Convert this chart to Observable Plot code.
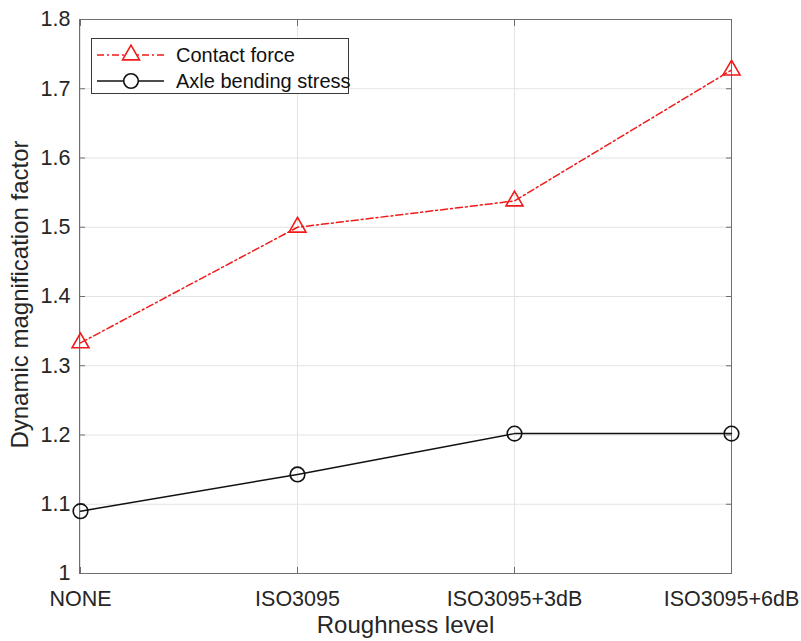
<!DOCTYPE html>
<html>
<head>
<meta charset="utf-8">
<script src="https://cdn.jsdelivr.net/npm/d3@7"></script>
<script src="https://cdn.jsdelivr.net/npm/@observablehq/plot@0.6"></script>
<style>
  html, body { margin: 0; padding: 0; background: #fff; }
  #wrap { position: relative; width: 801px; height: 641px; font-family: "Liberation Sans", Arial, Helvetica, sans-serif; }
  #legend { position: absolute; left: 91px; top: 38px; width: 258px; height: 56px; border: 1px solid #3a3a3a; background: #fff; box-sizing: border-box; }
  #legend .row { position: absolute; left: 0; height: 26px; display: flex; align-items: center; }
  #legend .row span { font-size: 20px; color: #111; margin-left: 6px; white-space: nowrap; }
</style>
</head>
<body>
<div id="wrap"></div>
<script>
// ---- data ----
const levels = ["NONE", "ISO3095", "ISO3095+3dB", "ISO3095+6dB"];
const contactForce = [1.333, 1.500, 1.538, 1.727];
const axleStress = [1.090, 1.143, 1.202, 1.202];
const yTicks = [1, 1.1, 1.2, 1.3, 1.4, 1.5, 1.6, 1.7, 1.8];
const seriesNames = ["Contact force", "Axle bending stress"];
const xLabel = "Roughness level";
const yLabel = "Dynamic magnification factor";

const red = "#f01a1a";
const black = "#111111";
const axisColor = "#6e6e6e";
const gridColor = "#e3e3e3";
const textColor = "#262626";

const cf = levels.map((lv, i) => ({level: lv, value: contactForce[i]}));
const ax = levels.map((lv, i) => ({level: lv, value: axleStress[i]}));
const fmt = d => (d === 1 ? "1" : d.toFixed(1));

const chart = Plot.plot({
  width: 801,
  height: 641,
  marginLeft: 79,
  marginRight: 70,
  marginTop: 19,
  marginBottom: 68,
  style: { fontFamily: '"Liberation Sans", Arial, Helvetica, sans-serif', fontSize: "21.5px", color: textColor, background: "#fff", overflow: "visible" },
  x: { type: "point", domain: levels, padding: 0 },
  y: { domain: [1, 1.8] },
  marks: [
    Plot.gridY(yTicks, { stroke: gridColor, strokeOpacity: 1, strokeWidth: 1 }),
    Plot.gridX(levels, { stroke: gridColor, strokeOpacity: 1, strokeWidth: 1 }),
    Plot.frame({ stroke: axisColor, strokeWidth: 1 }),
    Plot.axisY(yTicks, { anchor: "left", tickSize: -6, tickPadding: 15, tickFormat: fmt, stroke: axisColor, label: null, fill: textColor }),
    Plot.axisY(yTicks, { anchor: "right", tickSize: -6, tickFormat: () => "", stroke: axisColor, label: null }),
    Plot.axisX(levels, { anchor: "bottom", tickSize: -6, tickPadding: 23, stroke: axisColor, label: null, fill: textColor }),
    Plot.axisX(levels, { anchor: "top", tickSize: -6, tickFormat: () => "", stroke: axisColor, label: null }),
    Plot.line(cf, { x: "level", y: "value", stroke: red, strokeWidth: 1.5, strokeDasharray: "7,3,2,3" }),
    Plot.dot(cf, { x: "level", y: "value", symbol: "triangle", r: 6.3, stroke: red, strokeWidth: 1.6, fill: "none" }),
    Plot.line(ax, { x: "level", y: "value", stroke: black, strokeWidth: 1.5 }),
    Plot.dot(ax, { x: "level", y: "value", symbol: "circle", r: 7.3, stroke: black, strokeWidth: 1.6, fill: "none" }),
    Plot.text([xLabel], { frameAnchor: "bottom", dy: 59, fontSize: 24, fill: textColor }),
    Plot.text([yLabel], { frameAnchor: "left", textAnchor: "middle", dx: -59, dy: -2, rotate: -90, fontSize: 24, fill: textColor })
  ]
});
document.getElementById("wrap").appendChild(chart);

// ---- legend ----
const legend = document.createElement("div");
legend.id = "legend";
const tri = d3.symbol(d3.symbolTriangle, Math.PI * 6.3 * 6.3)();
const circ = d3.symbol(d3.symbolCircle, Math.PI * 7.3 * 7.3)();
const legendItems = [
  { name: seriesNames[0], color: red, dash: "7,3,2,3", path: tri },
  { name: seriesNames[1], color: black, dash: null, path: circ }
];
legendItems.forEach((it, i) => {
  const row = document.createElement("div");
  row.className = "row";
  row.style.top = (3 + i * 26) + "px";
  row.innerHTML = `<svg width="74" height="26" style="margin-left:4px"><line x1="1" x2="68" y1="13" y2="13" stroke="${it.color}" stroke-width="1.5" ${it.dash ? `stroke-dasharray="${it.dash}"` : ""}/><path d="${it.path}" transform="translate(35,13)" fill="#fff" stroke="${it.color}" stroke-width="1.6"/></svg><span>${it.name}</span>`;
  legend.appendChild(row);
});
document.getElementById("wrap").appendChild(legend);
</script>
</body>
</html>
